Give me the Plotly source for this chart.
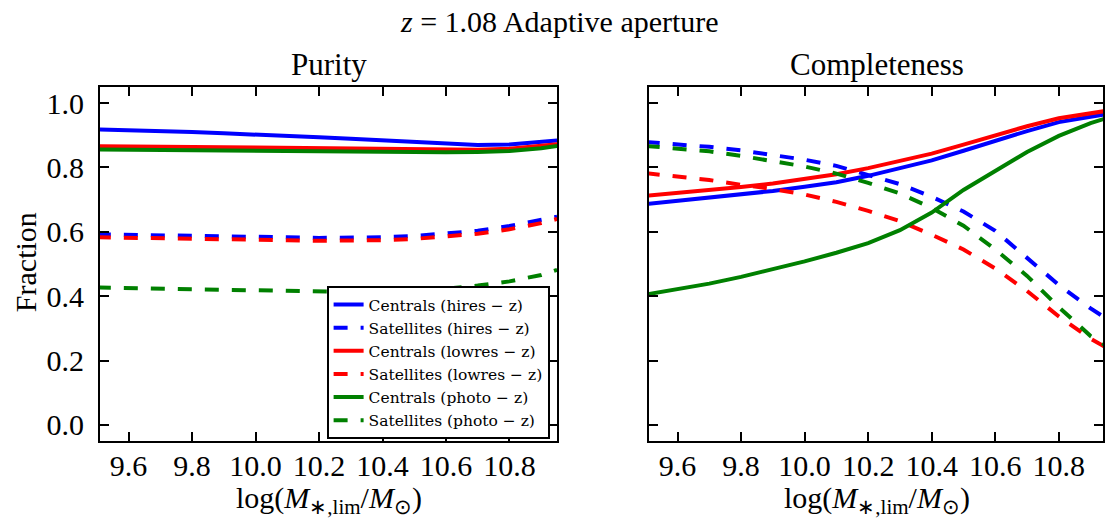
import plotly.graph_objects as go
from plotly.subplots import make_subplots

# ---- data ----
log_mlim = [9.5, 9.6, 9.7, 9.8, 9.9, 10.0, 10.1, 10.2, 10.3, 10.4, 10.5, 10.6, 10.7, 10.8, 10.9, 10.95]

purity_cen_hires = [0.918, 0.916, 0.913, 0.910, 0.906, 0.903, 0.899, 0.894, 0.889, 0.884, 0.879, 0.874, 0.870, 0.871, 0.878, 0.884]
purity_sat_hires = [0.592, 0.591, 0.590, 0.589, 0.587, 0.585, 0.583, 0.581, 0.581, 0.583, 0.587, 0.594, 0.603, 0.618, 0.636, 0.647]
purity_cen_lowres = [0.866, 0.866, 0.865, 0.864, 0.863, 0.862, 0.861, 0.860, 0.859, 0.858, 0.857, 0.856, 0.855, 0.858, 0.866, 0.872]
purity_sat_lowres = [0.583, 0.582, 0.581, 0.580, 0.578, 0.576, 0.574, 0.572, 0.572, 0.574, 0.578, 0.585, 0.594, 0.608, 0.627, 0.640]
purity_cen_photo = [0.856, 0.855, 0.855, 0.854, 0.853, 0.853, 0.852, 0.851, 0.850, 0.849, 0.848, 0.847, 0.848, 0.851, 0.860, 0.867]
purity_sat_photo = [0.427, 0.425, 0.423, 0.421, 0.419, 0.417, 0.415, 0.413, 0.413, 0.414, 0.417, 0.423, 0.433, 0.446, 0.466, 0.482]

compl_cen_hires = [0.686, 0.696, 0.705, 0.715, 0.727, 0.740, 0.754, 0.774, 0.798, 0.822, 0.852, 0.883, 0.913, 0.941, 0.958, 0.966]
compl_sat_hires = [0.879, 0.872, 0.864, 0.853, 0.839, 0.824, 0.805, 0.778, 0.748, 0.709, 0.663, 0.603, 0.518, 0.435, 0.362, 0.330]
compl_cen_lowres = [0.712, 0.720, 0.729, 0.739, 0.750, 0.764, 0.779, 0.798, 0.819, 0.843, 0.871, 0.900, 0.928, 0.953, 0.969, 0.976]
compl_sat_lowres = [0.782, 0.773, 0.761, 0.746, 0.733, 0.716, 0.693, 0.665, 0.633, 0.591, 0.545, 0.486, 0.416, 0.337, 0.268, 0.240]
compl_cen_photo = [0.405, 0.421, 0.439, 0.460, 0.483, 0.508, 0.535, 0.565, 0.605, 0.660, 0.730, 0.789, 0.848, 0.898, 0.938, 0.953]
compl_sat_photo = [0.867, 0.860, 0.850, 0.836, 0.821, 0.803, 0.781, 0.752, 0.719, 0.674, 0.619, 0.545, 0.463, 0.366, 0.276, 0.245]

series_names = [
    "Centrals (hires − z)", "Satellites (hires − z)",
    "Centrals (lowres − z)", "Satellites (lowres − z)",
    "Centrals (photo − z)", "Satellites (photo − z)",
]
series_colors = ["#0000ff", "#0000ff", "#ff0000", "#ff0000", "#008000", "#008000"]
series_dash = ["solid", "14px,13px", "solid", "14px,13px", "solid", "14px,13px"]

purity = [purity_cen_hires, purity_sat_hires, purity_cen_lowres,
          purity_sat_lowres, purity_cen_photo, purity_sat_photo]
completeness = [compl_cen_hires, compl_sat_hires, compl_cen_lowres,
                compl_sat_lowres, compl_cen_photo, compl_sat_photo]

x_ticks = [9.6, 9.8, 10.0, 10.2, 10.4, 10.6, 10.8]
y_ticks = [0.0, 0.2, 0.4, 0.6, 0.8, 1.0]

FONT = "Liberation Serif, Times New Roman, serif"
LEG_FONT = "DejaVu Serif, Liberation Serif, serif"

fig = make_subplots(rows=1, cols=2)

for i in range(6):
    fig.add_trace(go.Scatter(
        x=log_mlim, y=purity[i], mode="lines", name=series_names[i],
        line=dict(color=series_colors[i], width=4, dash=series_dash[i]),
        showlegend=True), row=1, col=1)
for i in range(6):
    fig.add_trace(go.Scatter(
        x=log_mlim, y=completeness[i], mode="lines", name=series_names[i],
        line=dict(color=series_colors[i], width=4, dash=series_dash[i]),
        showlegend=False), row=1, col=2)

W, H = 1105, 520
ML, MR, MT, MB = 100, 0, 86.5, 78.5
PW = W - ML - MR
PH = H - MT - MB

def px_x(p):
    return (p - ML) / PW

def px_y(p):
    return (H - MB - p) / PH

axis_common = dict(
    showline=True, linecolor="black", linewidth=2, mirror="ticks",
    ticks="inside", ticklen=9, tickwidth=1.5, tickcolor="black",
    showgrid=False, zeroline=False,
    tickfont=dict(family=FONT, size=30, color="black"),
)

fig.update_xaxes(**axis_common, tickvals=x_ticks,
                 ticktext=[f"{v:.1f}" for v in x_ticks], ticklabelstandoff=-3)
fig.update_yaxes(**axis_common, tickvals=y_ticks,
                 ticktext=[f"{v:.1f}" for v in y_ticks], range=[-0.05, 1.05],
                 ticklabelstandoff=8)

fig.update_layout(
    xaxis=dict(domain=[0, px_x(558)], range=[9.51, 10.95]),
    xaxis2=dict(domain=[px_x(650), 1.0], range=[9.51, 9.51 + (W - 650) / 318.4]),
    yaxis2=dict(showticklabels=False),
)

annots = [
    dict(text="<i>z</i> = 1.08 Adaptive aperture", x=px_x(560), y=px_y(21),
         size=30),
    dict(text="Purity", x=px_x(329), y=px_y(64), size=31),
    dict(text="Completeness", x=px_x(879), y=px_y(64), size=31),
    dict(text="log(<i>M</i><sub>∗,lim</sub>/<i>M</i><sub>⊙</sub>)", x=px_x(329),
         y=px_y(501), size=30),
    dict(text="log(<i>M</i><sub>∗,lim</sub>/<i>M</i><sub>⊙</sub>)", x=px_x(879),
         y=px_y(501), size=30),
]
for a in annots:
    fig.add_annotation(text=a["text"], x=a["x"], y=a["y"], xref="paper", yref="paper",
                       xanchor="center", yanchor="middle", showarrow=False,
                       font=dict(family=FONT, size=a["size"], color="black"))
fig.add_annotation(text="Fraction", x=px_x(25), y=px_y(262), xref="paper", yref="paper",
                   xanchor="center", yanchor="middle", showarrow=False, textangle=-90,
                   font=dict(family=FONT, size=30, color="black"))

fig.update_layout(
    width=W, height=H,
    margin=dict(l=ML, r=MR, t=MT, b=MB),
    paper_bgcolor="white", plot_bgcolor="white",
    font=dict(family=FONT, color="black"),
    legend=dict(x=px_x(550.5), y=px_y(286), xanchor="right", yanchor="top",
                bgcolor="white", bordercolor="black", borderwidth=2,
                font=dict(family=LEG_FONT, size=15.5, color="black"),
                tracegroupgap=0, itemwidth=30),
)

fig.write_html(
    "out.html",
    config={"displayModeBar": False},
    post_script="document.body.style.margin='0px';document.body.style.padding='0px';"
                "document.documentElement.style.overflow='hidden';",
)
